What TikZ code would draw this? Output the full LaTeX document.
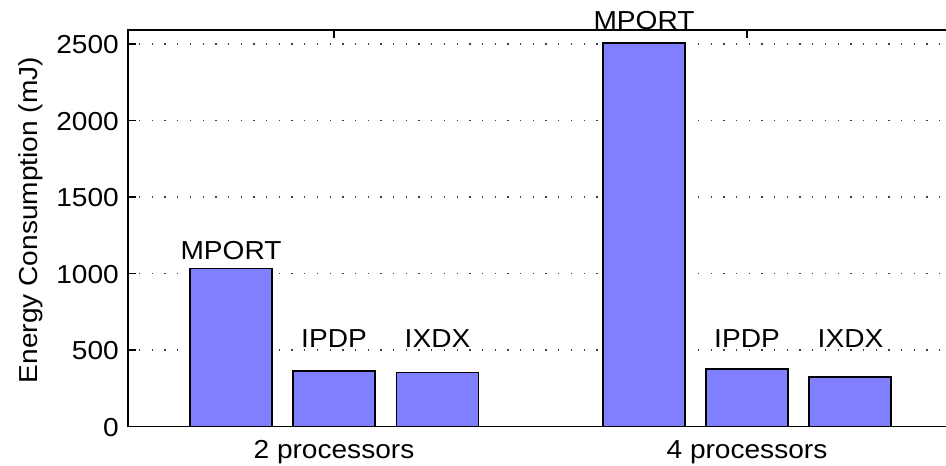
\documentclass[tikz,border=0pt]{standalone}
\usepackage{fontspec}
\usepackage{graphicx}
\setmainfont{Liberation Sans}
\definecolor{barblue}{RGB}{128,128,255}
\newcommand{\sxtext}[1]{\scalebox{1.08}[1]{#1}}
\begin{document}
\begin{tikzpicture}[x=1pt,y=-1pt,
  barbox/.style={draw=black, line width=1.4pt, fill=barblue},
  gridline/.style={line width=1.3pt, dash pattern=on 1.3pt off 11.4pt, black!75},
  axisline/.style={line width=1.8pt, line cap=rect},
  tickline/.style={line width=1.3pt},
  lbl/.style={inner sep=0pt, font=\fontsize{26}{30}\selectfont},
]
\useasboundingbox (0,0) rectangle (946,466);
% grid
\foreach \gy in {350,273.5,197,120.5,44}
  \draw[gridline] (139,\gy) -- (946,\gy);
% bars
\draw[barbox] (190,426.5) rectangle (272,268.3);
\draw[barbox] (293,426.5) rectangle (375,371.1);
\draw[barbox] (396.5,426.5) rectangle (478.5,372.2);
\draw[barbox] (603,426.5) rectangle (685,42.8);
\draw[barbox] (706,426.5) rectangle (788,369.1);
\draw[barbox] (809,426.5) rectangle (891,377.1);
% axes
\draw[axisline] (946,30) -- (128,30) -- (128,426.5) -- (946,426.5);
\foreach \gy in {350,273.5,197,120.5,44}
  \draw[tickline] (128,\gy) -- (136,\gy);
\foreach \gx in {334,747}
  \draw[tickline] (\gx,30) -- (\gx,38);
% tick labels
\node[lbl, anchor=base east] (t0) at (119,436) {\sxtext{0}};
\node[lbl, anchor=base east] (t500) at (119,359.5) {\sxtext{500}};
\node[lbl, anchor=base east] (t1000) at (119,283) {\sxtext{1000}};
\node[lbl, anchor=base east] (t1500) at (119,206.5) {\sxtext{1500}};
\node[lbl, anchor=base east] (t2000) at (119,130) {\sxtext{2000}};
\node[lbl, anchor=base east] (t2500) at (119,53.5) {\sxtext{2500}};
\node[lbl, anchor=base] (x1) at (334,458) {\sxtext{2 processors}};
\node[lbl, anchor=base] (x2) at (747,458) {\sxtext{4 processors}};
\node[lbl, anchor=base, rotate=90] (ylab) at (37,220) {\sxtext{Energy Consumption (mJ)}};
% bar labels
\node[lbl, anchor=base] (m1) at (231,259) {\sxtext{MPORT}};
\node[lbl, anchor=base] (p1) at (334,347.5) {\sxtext{IPDP}};
\node[lbl, anchor=base] (d1) at (437.5,347.5) {\sxtext{IXDX}};
\node[lbl, anchor=base] (m2) at (644,29) {\sxtext{MPORT}};
\node[lbl, anchor=base] (p2) at (747,347.5) {\sxtext{IPDP}};
\node[lbl, anchor=base] (d2) at (850.5,347.5) {\sxtext{IXDX}};
\end{tikzpicture}
\end{document}
